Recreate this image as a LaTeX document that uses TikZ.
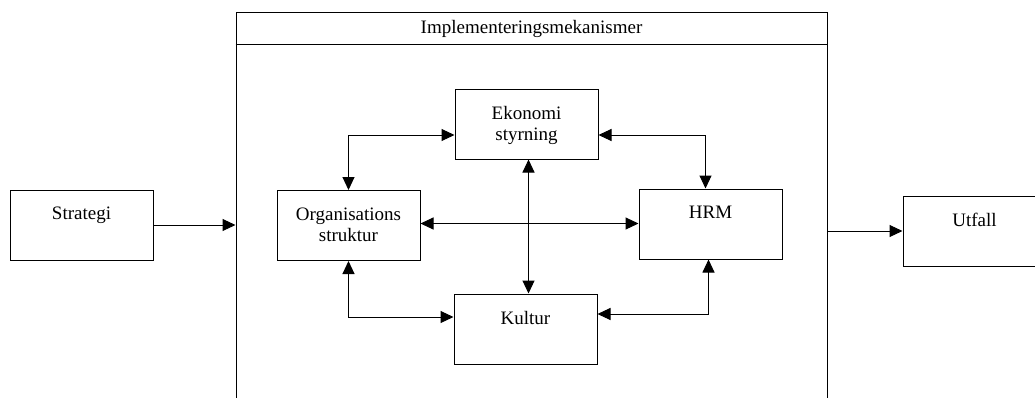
\documentclass[tikz,border=0pt]{standalone}
\usepackage{fontspec}
\setmainfont{Liberation Serif}
\usetikzlibrary{arrows.meta}

\begin{document}
\begin{tikzpicture}[x=1pt,y=-1pt,line width=1pt,
    font=\fontsize{19}{21}\selectfont,
    >={Triangle[length=13pt,width=12pt]},
    box/.style={draw,minimum width=143pt,minimum height=70pt,
      label={[anchor=north,yshift=-14pt,align=center]north:#1}}]
  \useasboundingbox (0,0) rectangle (1035,397);

  % container
  \node[draw,minimum width=591pt,minimum height=408pt] (impl) at (531.5,216) {};
  \draw (impl.north west) ++(0,33) -- ++(591,0);
  \node (head) at (531.5,28.5) {Implementeringsmekanismer};

  % outer boxes
  \node[box={Strategi}] (strat) at (81.5,225) {};
  \node[box={Utfall}] (utf) at (974.5,231) {};

  % inner boxes
  \node[box={Ekonomi\\styrning}] (eko) at (526.5,124) {};
  \node[box={Organisations\\struktur}] (org) at (348.5,225.5) {};
  \node[box={HRM}] (hrm) at (710.5,224) {};
  \node[box={Kultur}] (kul) at (525.5,329) {};

  \draw[->] (strat.east) -- (strat.east -| impl.west);
  \draw[->] (impl.east |- utf.west) -- (utf.west);

  \draw[<->] (org.north) |- ([yshift=-11pt]eko.west);
  \draw[<->] ([yshift=-11pt]eko.east) -| ([xshift=-5pt]hrm.north);
  \draw[<->] ([yshift=2pt]org.east) -- ([yshift=2pt]org.east -| hrm.west);
  \draw[<->] ([xshift=2pt]eko.south) -- ([xshift=2pt]eko.south |- kul.north);
  \draw[<->] (org.south) |- ([yshift=12pt]kul.west);
  \draw[<->] ([yshift=15pt]kul.east) -| ([xshift=-2pt]hrm.south);
\end{tikzpicture}
\end{document}
